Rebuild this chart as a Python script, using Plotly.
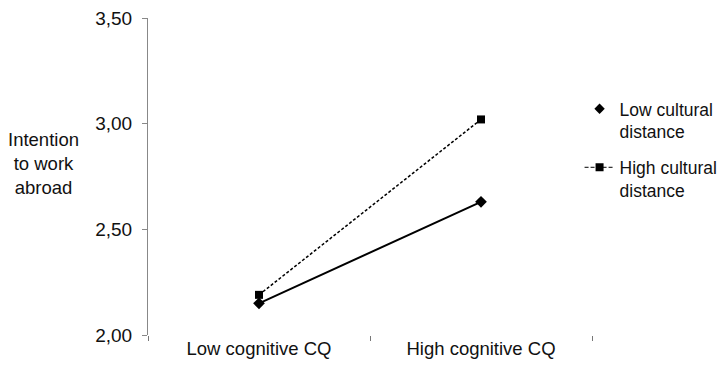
import plotly.graph_objects as go

# Données
categories = ["Low cognitive CQ", "High cognitive CQ"]
low_distance = [2.15, 2.63]
high_distance = [2.19, 3.02]
y_ticks = [2.0, 2.5, 3.0, 3.5]

fig = go.Figure()

# Courbes réelles (sans légende)
fig.add_trace(go.Scatter(
    x=categories, y=low_distance, mode="lines+markers",
    line=dict(color="black", width=2),
    marker=dict(symbol="diamond", size=9, color="black"),
    showlegend=False,
))
fig.add_trace(go.Scatter(
    x=categories, y=high_distance, mode="lines+markers",
    line=dict(color="black", width=1.5, dash="3px,2px"),
    marker=dict(symbol="square", size=8, color="black"),
    showlegend=False,
))

# Entrées de légende
fig.add_trace(go.Scatter(
    x=[None], y=[None], mode="markers", legendgroup="a",
    marker=dict(symbol="diamond", size=8, color="black"),
    name="Low cultural<br>distance",
))
fig.add_trace(go.Scatter(
    x=[None], y=[None], mode="lines+markers", legendgroup="b",
    line=dict(color="black", width=1, dash="4px,2px"),
    marker=dict(symbol="square", size=8, color="black"),
    name="High cultural<br>distance",
))

# La page décale le graphique de 8 px : taille et marges corrigées
fig.update_layout(
    width=720, height=357,
    margin=dict(l=140, r=136, t=10, b=30, autoexpand=False),
    paper_bgcolor="white", plot_bgcolor="white",
    font=dict(family="Liberation Sans, Arial", size=18.5, color="#111"),
    separators=",.",
    legend=dict(x=0.972, y=0.77, xanchor="left", yanchor="top",
                valign="top", tracegroupgap=10, font=dict(size=17.5)),
    annotations=[dict(
        text="Intention<br>to work<br>abroad", x=-0.236, xref="paper",
        xanchor="center", y=0.542, yref="paper", yanchor="middle",
        showarrow=False, align="center", font=dict(size=18.5),
    )],
)
fig.update_xaxes(
    showgrid=False, showline=False, zeroline=False, automargin=False,
    ticks="outside", tickson="boundaries", ticklen=5, tickcolor="#777",
    range=[-0.5, 1.5],
)
fig.update_yaxes(
    range=[2.0, 3.5], tickvals=y_ticks, tickformat=".2f", automargin=False,
    showgrid=False, zeroline=False, showline=True, linecolor="#888",
    linewidth=1, ticks="outside", ticklen=5, tickcolor="#888",
    ticklabelstandoff=6, tickfont=dict(size=19), ticklabeloverflow="allow",
)

fig.write_html("out.html")
